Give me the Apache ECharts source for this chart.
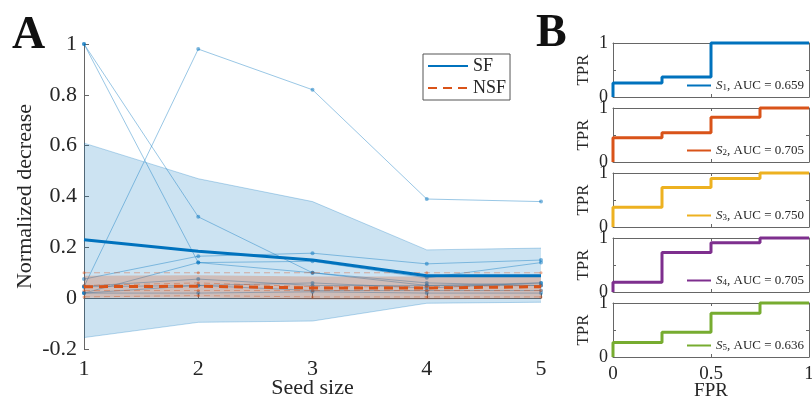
<!DOCTYPE html>
<html>
<head>
<meta charset="utf-8">
<script src="https://cdn.jsdelivr.net/npm/echarts@6/dist/echarts.min.js"></script>
<style>
  html, body { margin: 0; padding: 0; background: #fff; }
  #chart { width: 812px; height: 400px; }
</style>
</head>
<body>
<div id="chart"></div>
<script>
// panel A: normalized decrease vs seed size
const seedSizes = ['1', '2', '3', '4', '5'];

const sfRuns = [
  [1.0, 0.32, 0.10, 0.06, 0.05],
  [1.0, 0.14, 0.10, 0.05, 0.06],
  [0.045, 0.98, 0.82, 0.39, 0.38],
  [0.075, 0.165, 0.177, 0.135, 0.15],
  [0.02, 0.14, 0.145, 0.08, 0.14],
  [0.047, 0.075, 0.05, 0.05, 0.05],
  [0.045, 0.05, 0.06, 0.04, 0.06],
  [0.02, 0.02, 0.025, 0.02, 0.02],
  [0.02, 0.05, 0.03, 0.03, 0.03]
];
const nsfRuns = [
  [0.10, 0.10, 0.10, 0.10, 0.10],
  [0.05, 0.06, 0.045, 0.045, 0.05],
  [0.03, 0.03, 0.03, 0.03, 0.03],
  [0.005, 0.01, 0.005, 0.005, 0.005]
];

const sfMean = [0.23, 0.185, 0.15, 0.088, 0.088];
const sfUpper = [0.61, 0.47, 0.38, 0.19, 0.197];
const sfLower = [-0.155, -0.095, -0.09, -0.02, -0.016];

const nsfMean = [0.045, 0.047, 0.04, 0.04, 0.045];
const nsfUpper = [0.088, 0.09, 0.085, 0.085, 0.09];
const nsfLower = [0.002, 0.003, -0.005, -0.005, 0.0];

// panel B: ROC curves
const fprSteps = [0, 0.25, 0.5, 0.75];
const rocNames = ['S1', 'S2', 'S3', 'S4', 'S5'];
const rocLevels = [
  [0.26, 0.37, 1.0, 1.0],
  [0.45, 0.54, 0.83, 1.0],
  [0.365, 0.73, 0.90, 1.0],
  [0.18, 0.73, 0.91, 1.0],
  [0.27, 0.46, 0.81, 1.0]
];
const rocAuc = ['0.659', '0.705', '0.750', '0.705', '0.636'];
const rocColors = ['#0072BD', '#D95319', '#EDB120', '#7E2F8E', '#77AC30'];

const serif = 'Liberation Serif';
const axisColor = '#666';
const textColor = '#262626';
const bTops = [43, 108, 173, 238, 303];

const chart = echarts.init(document.getElementById('chart'));

const grids = [{ left: 84, top: 44, width: 457, height: 305, outerBoundsMode: 'none', containLabel: false }];
bTops.forEach(t => grids.push({ left: 613, top: t, width: 196, height: 54, outerBoundsMode: 'none', containLabel: false }));

const xAxes = [{
  gridIndex: 0,
  type: 'category',
  data: seedSizes,
  boundaryGap: false,
  name: 'Seed size',
  nameLocation: 'middle',
  nameGap: 28,
  nameMoveOverlap: false,
  nameTextStyle: { fontFamily: serif, fontSize: 22, color: textColor },
  axisLine: { lineStyle: { color: axisColor } },
  axisTick: { inside: true, length: 5, lineStyle: { color: axisColor } },
  axisLabel: { fontFamily: serif, fontSize: 22, color: textColor, margin: 9 }
}];
const yAxes = [{
  gridIndex: 0,
  type: 'value',
  min: -0.2,
  max: 1,
  interval: 0.2,
  name: 'Normalized decrease',
  nameLocation: 'middle',
  nameGap: 48,
  nameMoveOverlap: false,
  nameTextStyle: { fontFamily: serif, fontSize: 22, color: textColor },
  axisLine: { show: true, lineStyle: { color: axisColor } },
  axisTick: { show: true, inside: true, length: 5, lineStyle: { color: axisColor } },
  axisLabel: {
    fontFamily: serif, fontSize: 22, color: textColor, margin: 7,
    formatter: v => String(Math.round(v * 10) / 10)
  },
  splitLine: { show: false }
}];

rocNames.forEach((n, i) => {
  const g = i + 1;
  const last = i === rocNames.length - 1;
  const common = {
    gridIndex: g, type: 'value', min: 0, max: 1, interval: 0.5,
    nameMoveOverlap: false,
    axisLine: { show: true, onZero: false, lineStyle: { color: axisColor } },
    axisTick: { show: true, inside: true, length: 3, lineStyle: { color: axisColor } },
    splitLine: { show: false }
  };
  xAxes.push(Object.assign({}, common, {
    position: 'bottom',
    name: last ? 'FPR' : '',
    nameLocation: 'middle',
    nameGap: 25,
    nameTextStyle: { fontFamily: serif, fontSize: 19, color: textColor },
    axisLabel: { show: last, fontFamily: serif, fontSize: 19, color: textColor, margin: 8 }
  }));
  xAxes.push(Object.assign({}, common, { position: 'top', axisLabel: { show: false } }));
  yAxes.push(Object.assign({}, common, {
    position: 'left',
    name: 'TPR',
    nameLocation: 'middle',
    nameGap: 21,
    nameTextStyle: { fontFamily: serif, fontSize: 17, color: textColor },
    axisLabel: {
      fontFamily: serif, fontSize: 18, color: textColor, margin: 5,
      formatter: v => (v === 0.5 ? '' : String(v))
    }
  }));
  yAxes.push(Object.assign({}, common, { position: 'right', axisLabel: { show: false } }));
});

const series = [];
const edge = { width: 0.8, color: 'rgba(0,114,189,0.35)' };

// SF band (mean +- std)
series.push({
  type: 'line', xAxisIndex: 0, yAxisIndex: 0, stack: 'sf', stackStrategy: 'all',
  data: sfLower, symbol: 'none', lineStyle: edge, z: 1
});
series.push({
  type: 'line', xAxisIndex: 0, yAxisIndex: 0, stack: 'sf', stackStrategy: 'all',
  data: sfUpper.map((v, i) => +(v - sfLower[i]).toFixed(4)), symbol: 'none', lineStyle: edge,
  areaStyle: { color: '#0072BD', opacity: 0.2 }, z: 1
});

sfRuns.forEach(run => {
  series.push({
    type: 'line', xAxisIndex: 0, yAxisIndex: 0, data: run,
    symbol: 'circle', symbolSize: 4,
    lineStyle: { width: 1, color: 'rgba(0,114,189,0.4)' },
    itemStyle: { color: 'rgba(0,114,189,0.5)' }, z: 2
  });
});

// NSF band
series.push({
  type: 'line', xAxisIndex: 0, yAxisIndex: 0, stack: 'nsf', stackStrategy: 'all',
  data: nsfLower, symbol: 'none', lineStyle: { width: 0 }, z: 3
});
series.push({
  type: 'line', xAxisIndex: 0, yAxisIndex: 0, stack: 'nsf', stackStrategy: 'all',
  data: nsfUpper.map((v, i) => +(v - nsfLower[i]).toFixed(4)), symbol: 'none', lineStyle: { width: 0 },
  areaStyle: { color: '#D95319', opacity: 0.26 }, z: 3
});

nsfRuns.forEach(run => {
  series.push({
    type: 'line', xAxisIndex: 0, yAxisIndex: 0, data: run,
    symbol: 'circle', symbolSize: 3,
    lineStyle: { width: 1, type: [6, 4], color: 'rgba(217,83,25,0.4)' },
    itemStyle: { color: 'rgba(217,83,25,0.45)' }, z: 3
  });
});

series.push({
  name: 'SF', type: 'line', xAxisIndex: 0, yAxisIndex: 0, data: sfMean,
  symbol: 'none', lineStyle: { width: 3, color: '#0072BD' }, itemStyle: { color: '#0072BD' }, z: 4
});
series.push({
  name: 'NSF', type: 'line', xAxisIndex: 0, yAxisIndex: 0, data: nsfMean,
  symbol: 'none', lineStyle: { width: 3, color: '#D95319', type: [9, 6] }, itemStyle: { color: '#D95319' }, z: 4
});

// ROC step curves
rocLevels.forEach((levels, i) => {
  const pts = [[0, 0]].concat(levels.map((l, k) => [fprSteps[k], l])).concat([[1, levels[levels.length - 1]]]);
  series.push({
    name: rocNames[i], type: 'line', step: 'end',
    xAxisIndex: i * 2 + 1, yAxisIndex: i * 2 + 1,
    data: pts, symbol: 'none', clip: false,
    lineStyle: { width: 3, color: rocColors[i] }, itemStyle: { color: rocColors[i] }, z: 3
  });
});

const legends = [{
  data: ['SF', 'NSF'],
  orient: 'vertical',
  left: 423, top: 54,
  itemWidth: 40, itemHeight: 2, itemGap: 4,
  padding: [3, 4, 3, 4],
  borderColor: '#555', borderWidth: 1, backgroundColor: '#fff',
  itemStyle: { opacity: 0 },
  textStyle: { fontFamily: serif, fontSize: 18, color: textColor, lineHeight: 18 }
}];
rocNames.forEach((n, i) => {
  legends.push({
    data: [n],
    left: 686, top: bTops[i] + 54 - 18,
    itemWidth: 24, itemHeight: 2,
    padding: 0,
    lineStyle: { width: 2 },
    itemStyle: { opacity: 0 },
    formatter: () => '{i|S}{s|' + (i + 1) + '}, AUC = ' + rocAuc[i],
    textStyle: {
      fontFamily: serif, fontSize: 13, color: textColor,
      rich: {
        i: { fontFamily: serif, fontSize: 13, fontStyle: 'italic', color: textColor },
        s: { fontFamily: serif, fontSize: 9, color: textColor, verticalAlign: 'bottom' }
      }
    }
  });
});

chart.setOption({
  animation: false,
  backgroundColor: '#fff',
  grid: grids,
  xAxis: xAxes,
  yAxis: yAxes,
  legend: legends,
  series: series,
  graphic: [
    { type: 'text', left: 12, top: 13, style: { text: 'A', font: 'bold 46px "Liberation Serif"', fill: '#111' } },
    { type: 'text', left: 536, top: 11, style: { text: 'B', font: 'bold 46px "Liberation Serif"', fill: '#111' } }
  ]
});
</script>
</body>
</html>
